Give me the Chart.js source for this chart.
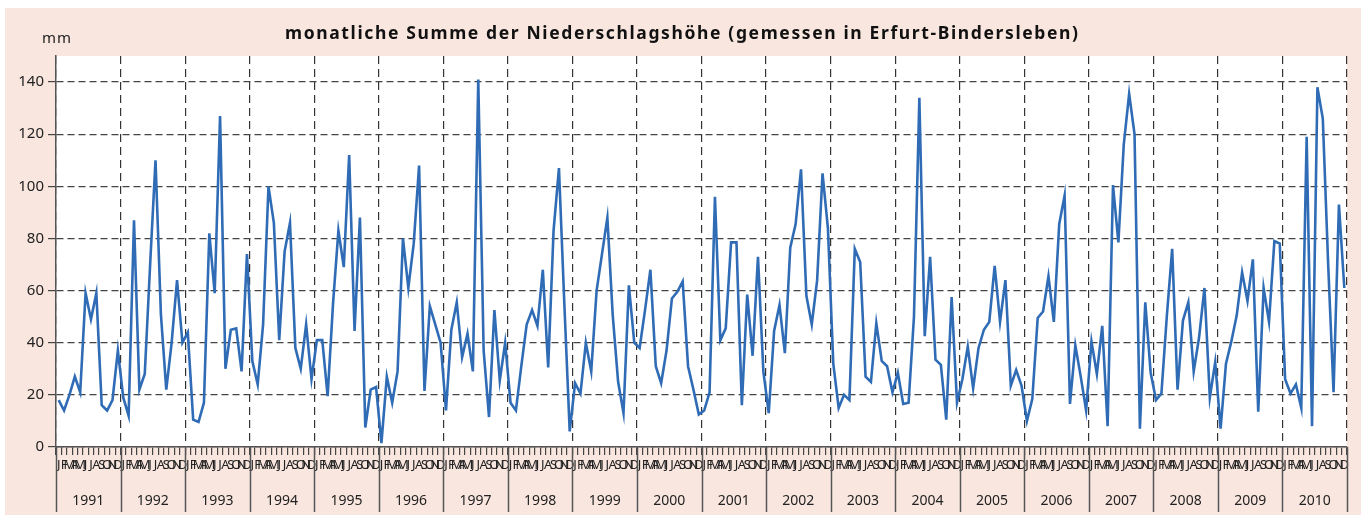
<!DOCTYPE html>
<html>
<head>
<meta charset="utf-8">
<script src="https://cdn.jsdelivr.net/npm/chart.js@4.4.0/dist/chart.umd.min.js"></script>
<style>
  html, body { margin: 0; padding: 0; background: #fff; }
  #panel { position: absolute; left: 5px; top: 8px; width: 1356px; height: 507px; background: #f9e6df; }
  #wrap { position: absolute; left: 0; top: 0; width: 1361px; height: 524px; }
</style>
</head>
<body>
<div id="panel"></div>
<div id="wrap"><canvas id="rainChart"></canvas></div>
<script>
// month letters and years along the x axis
const months = ['J', 'F', 'M', 'A', 'M', 'J', 'J', 'A', 'S', 'O', 'N', 'D'];
const years = ['1991', '1992', '1993', '1994', '1995', '1996', '1997', '1998', '1999', '2000',
               '2001', '2002', '2003', '2004', '2005', '2006', '2007', '2008', '2009', '2010'];
const yTicks = [0, 20, 40, 60, 80, 100, 120, 140];

// monthly precipitation in mm
const y1991 = [18, 14, 20, 27, 21, 59, 49, 59, 16, 14, 18, 37];
const y1992 = [19, 12, 87, 22, 28, 70, 110, 51, 22, 40, 64, 40];
const y1993 = [44, 10.5, 9.6, 17, 82, 59, 127, 30, 45, 45.5, 29, 74];
const y1994 = [33, 24, 47, 100, 86, 41, 75, 86, 38, 30, 47, 26];
const y1995 = [41, 41, 19.5, 55, 83, 69, 112, 44.5, 88, 7.5, 22, 23];
const y1996 = [1.5, 27, 17, 29, 80, 61, 78, 108, 21.5, 54, 47, 40];
const y1997 = [14, 45, 55.5, 34.5, 43.5, 29, 141, 37, 11.5, 52.5, 25.5, 40];
const y1998 = [17, 14, 31, 47, 52.5, 46.5, 68, 30.5, 83, 107, 55, 6];
const y1999 = [24.5, 20.5, 40, 29, 60, 74, 88, 50.5, 25, 13, 62, 40];
const y2000 = [38, 52.5, 68, 31, 24.5, 37, 57, 59.5, 63.5, 31, 22, 12.5];
const y2001 = [14, 21, 96, 41, 45.5, 78.5, 78.5, 16, 58.5, 35, 73, 29];
const y2002 = [13, 44.5, 54.5, 36, 76.5, 85.5, 106.5, 58, 47, 64, 105, 84];
const y2003 = [32, 15, 20, 18, 76, 71, 27, 25, 47.5, 33, 31, 21];
const y2004 = [28.5, 16.5, 17, 50, 134, 42.5, 73, 33.5, 31.5, 10.5, 57.5, 17];
const y2005 = [26, 38.5, 22.5, 38, 45, 48, 69.5, 48, 64, 23.5, 29.5, 23.5];
const y2006 = [10, 18.5, 49.5, 52, 65.5, 48, 85.5, 96.5, 16.5, 39, 27, 14];
const y2007 = [40.5, 28, 46.5, 8, 100.5, 78.5, 116, 135.5, 120, 7, 55.5, 28.5];
const y2008 = [18, 20.5, 50, 76, 22, 48.5, 55.5, 29, 42, 61, 19, 32.5];
const y2009 = [7, 32, 40.5, 50.5, 67, 56, 72, 13.5, 61, 48, 79, 78];
const y2010 = [26, 20.5, 24, 15, 119, 8, 138, 126, 70, 21, 93, 61];

const rain = [].concat(y1991, y1992, y1993, y1994, y1995, y1996, y1997, y1998, y1999, y2000,
                       y2001, y2002, y2003, y2004, y2005, y2006, y2007, y2008, y2009, y2010);
const labels = [];
years.forEach(() => months.forEach(m => labels.push(m)));

const titleText = 'monatliche Summe der Niederschlagshöhe (gemessen in Erfurt-Bindersleben)';
const fontFamily = '"Noto Sans", "Open Sans", sans-serif';

const decor = {
  id: 'decor',
  beforeDraw(chart) {
    const { ctx, chartArea: a } = chart;
    ctx.save();
    ctx.fillStyle = '#ffffff';
    ctx.fillRect(a.left, a.top, a.right - a.left, a.bottom - a.top);
    ctx.restore();
  },
  afterDraw(chart) {
    const { ctx, chartArea: a } = chart;
    const xs = chart.scales.x;
    ctx.save();

    // title, spread to the width it has in the picture
    ctx.font = 'bold 17.5px ' + fontFamily;
    ctx.fillStyle = '#111';
    ctx.textBaseline = 'alphabetic';
    ctx.textAlign = 'left';
    const w0 = ctx.measureText(titleText).width;
    const spacing = Math.max(0, (793 - w0) / (titleText.length - 1));
    ctx.letterSpacing = spacing + 'px';
    ctx.fillText(titleText, 285, 39);
    ctx.letterSpacing = '0px';

    // unit
    ctx.font = '15px ' + fontFamily;
    ctx.fillStyle = '#222';
    ctx.letterSpacing = '1px';
    ctx.fillText('mm', 42, 43);
    ctx.letterSpacing = '0px';

    // year separators and year labels under the month letters
    const half = (xs.getPixelForValue(1) - xs.getPixelForValue(0)) / 2;
    const edges = [];
    for (let k = 0; k <= years.length; k++) {
      edges.push(k < years.length ? xs.getPixelForValue(k * 12) - half
                                  : xs.getPixelForValue(k * 12 - 1) + half);
    }
    ctx.strokeStyle = '#555';
    ctx.lineWidth = 1.5;
    edges.forEach(x => {
      ctx.beginPath();
      ctx.moveTo(Math.round(x) + 0.5, a.bottom);
      ctx.lineTo(Math.round(x) + 0.5, 512);
      ctx.stroke();
    });
    ctx.font = '14px ' + fontFamily;
    ctx.fillStyle = '#222';
    ctx.textAlign = 'center';
    ctx.textBaseline = 'middle';
    years.forEach((yr, k) => {
      ctx.fillText(yr, (edges[k] + edges[k + 1]) / 2, 501);
    });
    ctx.restore();
  }
};

new Chart(document.getElementById('rainChart'), {
  type: 'line',
  data: {
    labels: labels,
    datasets: [{
      data: rain,
      borderColor: '#2f6cb5',
      borderWidth: 2.6,
      pointRadius: 0,
      tension: 0,
      fill: false
    }]
  },
  options: {
    responsive: true,
    maintainAspectRatio: false,
    animation: false,
    layout: { padding: { top: 56, right: 14, left: 0, bottom: 0 } },
    plugins: {
      legend: { display: false },
      title: { display: false },
      tooltip: { enabled: false }
    },
    scales: {
      x: {
        type: 'category',
        offset: true,
        afterFit: s => { s.height = 77; },
        grid: {
          offset: true,
          drawOnChartArea: true,
          color: c => (c.index === undefined || c.index % 12 === 0) ? '#333' : 'rgba(0,0,0,0)',
          lineWidth: 1.2,
          tickLength: 8,
          tickColor: '#444',
          tickWidth: 1.2
        },
        border: { display: true, color: '#555', width: 1.5, dash: [8, 5] },
        ticks: {
          autoSkip: false,
          maxRotation: 0,
          minRotation: 0,
          padding: 2,
          color: '#222',
          font: { family: fontFamily, size: 13 }
        }
      },
      y: {
        min: 0,
        max: 150,
        afterFit: s => { s.width = 56; },
        afterBuildTicks: s => { s.ticks = yTicks.map(v => ({ value: v })); },
        grid: {
          color: '#444',
          lineWidth: 1.2,
          tickLength: 8,
          tickColor: '#444'
        },
        border: { display: true, color: '#555', width: 1.5, dash: [7, 4] },
        ticks: {
          padding: 4,
          color: '#222',
          font: { family: fontFamily, size: 15 }
        }
      }
    }
  },
  plugins: [decor]
});
</script>
</body>
</html>
